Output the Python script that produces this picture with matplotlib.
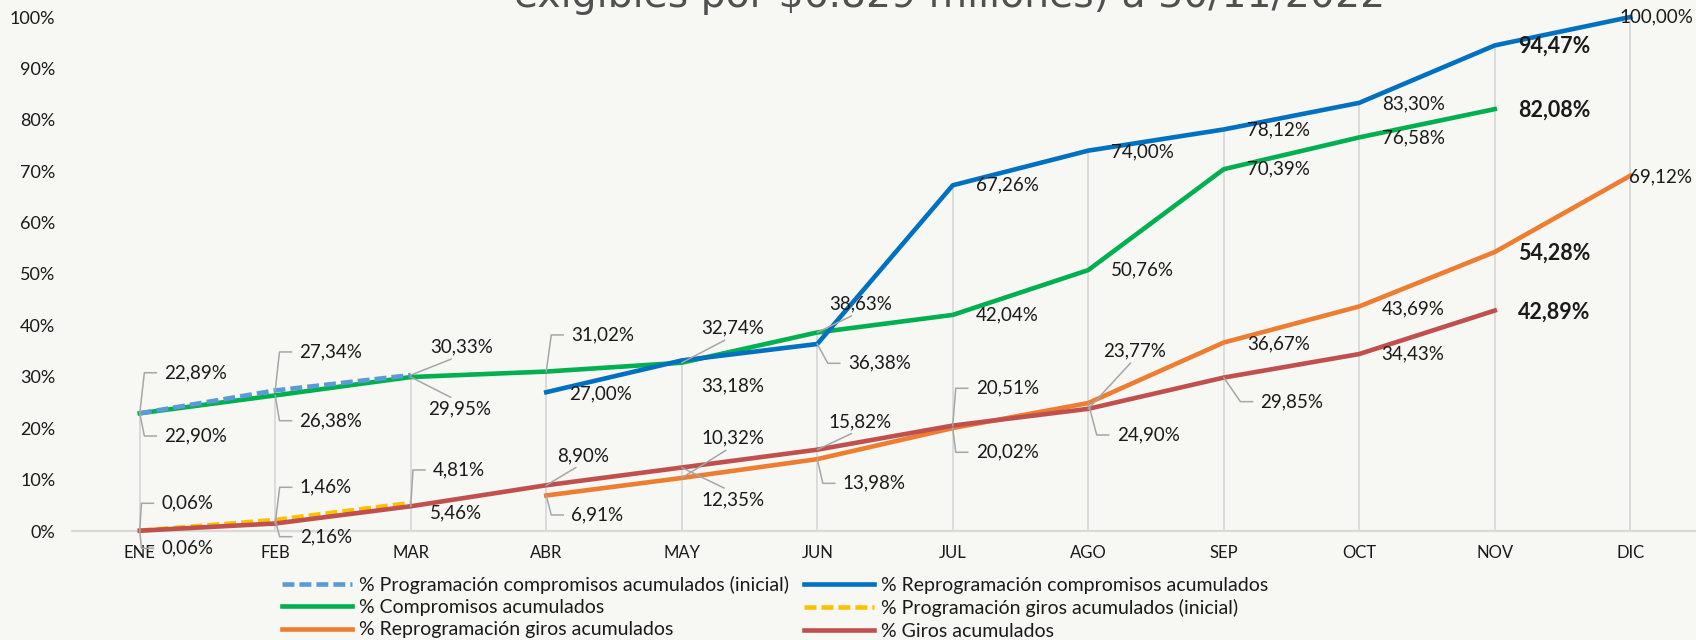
import numpy as np
import matplotlib
matplotlib.use("Agg")
import matplotlib.pyplot as plt
from matplotlib.lines import Line2D
from matplotlib.transforms import IdentityTransform

plt.rcParams['font.family'] = ['Lato', 'DejaVu Sans']

# ---- data (percent, month aligned) ----
months = ['ENE', 'FEB', 'MAR', 'ABR', 'MAY', 'JUN',
          'JUL', 'AGO', 'SEP', 'OCT', 'NOV', 'DIC']
prog_comp_ini = [22.89, 27.34, 30.33] + [None] * 9
reprog_comp = [None, None, None, 27.00, 33.18, 36.38,
               67.26, 74.00, 78.12, 83.30, 94.47, 100.00]
comp = [22.90, 26.38, 29.95, 31.02, 32.74, 38.63,
        42.04, 50.76, 70.39, 76.58, 82.08, None]
prog_giros_ini = [0.06, 2.16, 5.46] + [None] * 9
reprog_giros = [None, None, None, 6.91, 10.32, 13.98,
                20.02, 24.90, 36.67, 43.69, 54.28, 69.12]
giros = [0.06, 1.46, 4.81, 8.90, 12.35, 15.82,
         20.51, 23.77, 29.85, 34.43, 42.89, None]

names = ['% Programación compromisos acumulados (inicial)',
         '% Reprogramación compromisos acumulados',
         '% Compromisos acumulados',
         '% Programación giros acumulados (inicial)',
         '% Reprogramación giros acumulados',
         '% Giros acumulados']
title = 'exigibles por $6.829 millones) a 30/11/2022'

# ---- label placement: (dx px, dy px up, leader kind) ----
pc_lbl = [(24.6, 40.6, 'side'), (24.2, 38.5, 'side'), (19.5, 27.8, 'edge')] + [None] * 9
rc_lbl = [None, None, None, (22.4, -2, None), (19.7, -25.5, None), (30.6, -19.3, 'side'),
          (23, 0, None), (23, -1, None), (23, 0, None), (23, -1, None), (23, -1, None),
          (-11, 0, None)]
co_lbl = [(24.6, -22.7, 'side'), (24.2, -25.3, 'side'), (17, -32.2, 'edge'),
          (25, 36.6, 'side'), (19.7, 34.4, 'edge'), (11.6, 28.4, 'edge'),
          (23, 0, None), (23, 0, None), (23, 0, None), (23, 0, None), (23, -1, None), None]
pg_lbl = [(21.7, 27.4, 'side'), (24.4, -16.8, 'side'), (19, -10.4, None)] + [None] * 9
rg_lbl = [None, None, None, (25, -19.5, 'side'), (19.7, 39.7, 'edge'), (25.6, -24.2, 'side'),
          (23, -24.2, 'side'), (28.5, -32, 'side'), (23, -1, None), (23, -2, None),
          (23, -1, None), (-1.7, -1, None)]
gi_lbl = [(21.7, -17.6, 'side'), (24.4, 36.2, 'side'), (22.2, 36.3, 'side'),
          (11, 29.8, 'edge'), (19.7, -32.5, 'edge'), (11.6, 28, 'edge'),
          (23, 37.3, 'side'), (15.2, 58.1, 'edge'), (36.7, -24.1, 'side'),
          (22.4, 0, None), (23, -2, None), None]

BG = '#F7F7F3'
GRID = '#D9D9D9'
LEADER = '#A6A6A6'
TXT = '#1A1A1A'


def arr(vals):
    return np.array([np.nan if v is None else v for v in vals], dtype=float)


def fmt(v):
    return f'{v:.2f}%'.replace('.', ',')


fig = plt.figure(figsize=(16.96, 6.4), dpi=100, facecolor=BG)
ax = fig.add_axes([72 / 1696, 109 / 640, 1626 / 1696, 514 / 640])
ax.set_facecolor(BG)
ax.set_xlim(-0.5, 11.5)
ax.set_ylim(0, 100)
x = np.arange(len(months))

# drop lines
all_series = [prog_comp_ini, reprog_comp, comp, prog_giros_ini, reprog_giros, giros]
tops = np.nanmax(np.vstack([arr(s) for s in all_series]), axis=0)
ax.vlines(x, 0, tops, color=GRID, lw=1.3, zorder=1)

lw = 3.3
dash = (0, (2.6, 1.1))
l_pc, = ax.plot(x, arr(prog_comp_ini), color='#5B9BD5', lw=lw, ls=dash,
                dash_capstyle='butt', label=names[0], zorder=3, clip_on=False)
l_rc, = ax.plot(x, arr(reprog_comp), color='#0070C0', lw=lw, label=names[1],
                zorder=3, clip_on=False, solid_joinstyle='round')
l_co, = ax.plot(x, arr(comp), color='#00B050', lw=lw, label=names[2], zorder=2,
                clip_on=False, solid_joinstyle='round')
l_pg, = ax.plot(x, arr(prog_giros_ini), color='#FFC000', lw=lw, ls=dash,
                dash_capstyle='butt', label=names[3], zorder=3, clip_on=False)
l_rg, = ax.plot(x, arr(reprog_giros), color='#ED7D31', lw=lw, label=names[4],
                zorder=3, clip_on=False, solid_joinstyle='round')
l_gi, = ax.plot(x, arr(giros), color='#C0504D', lw=lw, label=names[5], zorder=3,
                clip_on=False, solid_joinstyle='round')

for s in ['top', 'right', 'left']:
    ax.spines[s].set_visible(False)
ax.spines['bottom'].set_color(GRID)
ax.spines['bottom'].set_linewidth(1.6)
ax.set_xticks(x)
ax.set_xticklabels(months)
ax.set_yticks(np.arange(0, 101, 10))
ax.set_yticklabels([f'{v}%' for v in range(0, 101, 10)])
ax.tick_params(axis='x', length=0, pad=10, labelsize=12, colors=TXT)
ax.tick_params(axis='y', length=0, pad=12, labelsize=13, colors=TXT)


def put_labels(vals, specs):
    for i, (v, spec) in enumerate(zip(vals, specs)):
        if v is None or spec is None:
            continue
        dx, dy, leader = spec
        bold = i == 10
        kw = dict(fontsize=15.5 if bold else 13.5,
                  fontweight='bold' if bold else 'normal', color=TXT,
                  ha='left', va='center', textcoords='offset pixels',
                  zorder=6, annotation_clip=False)
        if leader == 'edge':
            kw['arrowprops'] = dict(arrowstyle='-', color=LEADER, lw=1.1,
                                    shrinkA=1, shrinkB=0,
                                    relpos=(0.5, 0.05 if dy > 0 else 0.95))
        ax.annotate(fmt(v), xy=(i, v), xytext=(dx, dy), **kw)
        if leader == 'side':
            px, py = ax.transData.transform((i, v))
            fig.add_artist(Line2D([px, px + dx - 20, px + dx - 8],
                                  [py, py + dy, py + dy],
                                  transform=IdentityTransform(),
                                  color=LEADER, lw=1.1, zorder=5))


put_labels(prog_comp_ini, pc_lbl)
put_labels(reprog_comp, rc_lbl)
put_labels(comp, co_lbl)
put_labels(prog_giros_ini, pg_lbl)
put_labels(reprog_giros, rg_lbl)
put_labels(giros, gi_lbl)

handles = [l_pc, l_co, l_rg, l_rc, l_pg, l_gi]
fig.legend(handles=handles, labels=[h.get_label() for h in handles], ncol=2,
           loc='center left', bbox_to_anchor=(282 / 1696, 1 - 607.7 / 640),
           frameon=False, fontsize=14, handlelength=3.6, handletextpad=0.35,
           columnspacing=0.8, labelspacing=0.27, borderpad=0, borderaxespad=0,
           labelcolor=TXT)

# partly cut-off title at the very top
t = fig.text(0.560, 1 - 7 / 640, title, ha='center', va='baseline',
             fontsize=24, color='#505050', family='DejaVu Sans')
fig.canvas.draw()
w = t.get_window_extent().width
t.set_fontsize(24 * 875 / w)

fig.savefig('out.png', dpi=100, facecolor=BG)
